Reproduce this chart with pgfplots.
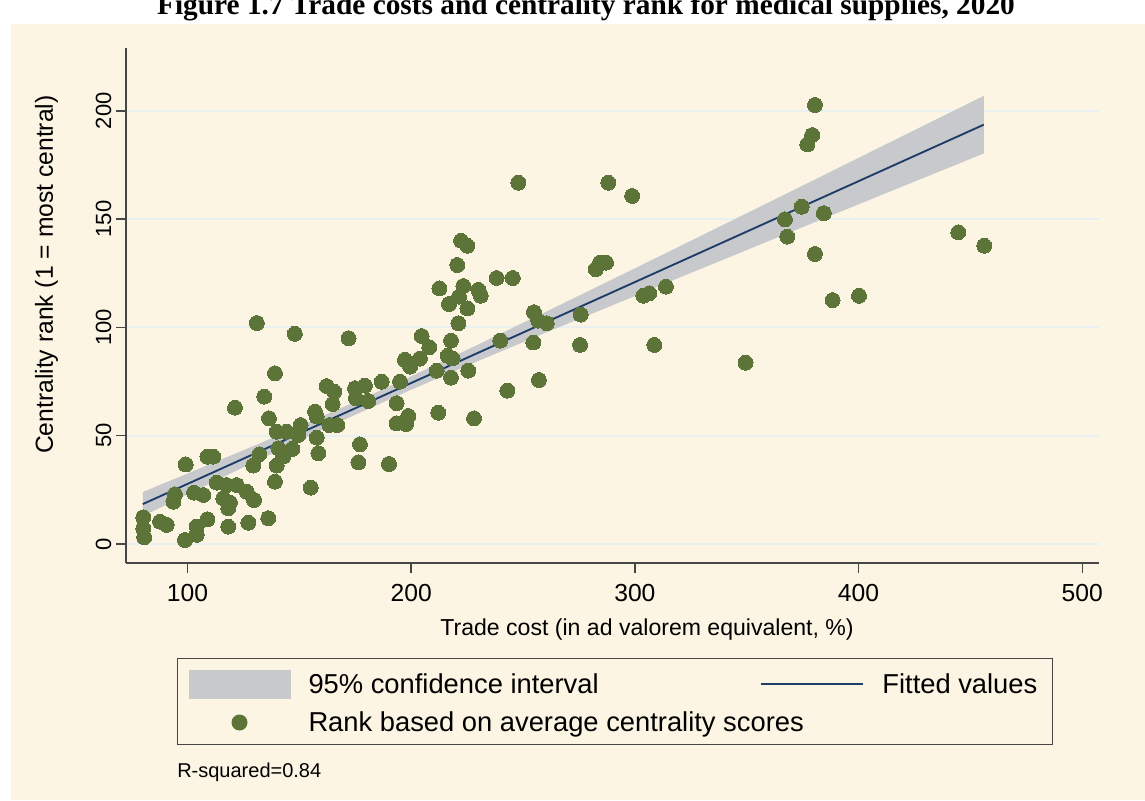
\documentclass[border=0pt]{standalone}
\usepackage{pgfplots}
\pgfplotsset{compat=1.18}
\usepackage{pgfplotstable}
\usepackage{fontspec}
\setmainfont{Liberation Sans}
\newfontfamily\titlefont{Liberation Serif}

\definecolor{cream}{RGB}{252,245,227}
\definecolor{dotgreen}{RGB}{93,116,57}
\definecolor{cigray}{RGB}{200,201,205}
\definecolor{fitnavy}{RGB}{29,61,103}
\definecolor{gridc}{RGB}{232,240,242}
\definecolor{axisc}{RGB}{70,70,70}

% trade cost (AVE, %) vs centrality rank
\pgfplotstableread{
x y
131 102
148 97
172 95
204.7 96
208.1 90.8
197.2 85
203.9 85.6
199.5 81.9
211.4 80
212.1 60.6
139.1 78.8
134.3 68
121.2 62.9
136.4 58
162.2 72.9
165.6 70.3
164.9 64.6
174.9 71.9
179.3 73.1
175.3 67.3
180.8 66
186.8 74.9
195 74.9
193.5 65
193.5 55.7
197.7 55.4
198.7 59.1
177.1 46
176.4 37.7
190.1 36.9
157 61.1
157.8 58.8
150.6 54.9
139.9 51.8
144.3 51.8
149.5 50.3
163.4 54.9
167 54.9
157.8 49.1
158.5 41.9
146.9 43.9
140.6 44.2
142.8 40.3
132.1 41.4
129.4 36.2
139.9 36.2
139.1 28.8
155.1 26
99.2 36.7
108.9 40.3
111.5 40.3
94.4 22.9
93.7 19.5
102.9 23.7
107.1 22.6
113.1 28.3
117.5 27.2
122 27.2
116 21.1
119 19.1
118.2 16.5
126.5 24.1
129.7 20.3
108.9 11.4
104.1 8
104.1 4.2
98.9 1.8
118.2 8
127.2 9.8
136.1 11.9
87.7 10.3
90.7 8.8
80.2 12.3
80.2 7.2
80.6 3.1
247.9 166.8
288.1 166.8
298.8 160.7
222.3 140
225.1 137.7
220.6 128.8
212.6 118
223.3 119.1
221.4 114.2
216.9 110.8
225.1 108.8
230 117.3
231.1 114.6
238.2 122.8
245.4 122.8
221.1 101.9
217.8 93.9
216.3 86.9
218.5 85.7
217.8 76.8
225.5 80
228.1 58
243 70.8
257.1 75.7
239.8 93.9
254.6 93
254.9 107
256.8 103.1
260.6 101.9
275.8 105.9
275.5 91.9
282.5 126.8
284.4 129.9
287.1 129.9
303.8 114.6
306.4 115.7
313.9 118.8
308.7 91.9
349.5 83.7
380.5 202.7
379.3 188.8
377.1 184.5
374.6 155.7
384.5 152.7
367.1 149.9
368.1 141.9
380.5 133.9
388.4 112.6
400.2 114.6
444.6 143.9
456.2 137.7
}\points

% 95% confidence band, upper edge then lower edge back
\pgfplotstableread{
x y
80 24.0
100 32.5
120 41.1
140 49.8
160 58.8
180 68.0
200 77.4
230 92.1
260 107.1
290 122.2
320 137.4
350 152.7
380 168.0
410 183.4
456 206.9
456 180.3
410 161.0
380 148.4
350 135.7
320 123.0
290 110.2
260 97.5
230 84.5
200 71.2
180 62.0
160 52.6
140 42.8
120 32.9
100 22.9
80 12.8
}\band

\begin{document}
\begin{tikzpicture}
% page 1145x800 px at 0.75pt per px
\path[use as bounding box] (0pt,0pt) rectangle (858.75pt,600pt);
\fill[cream] (8.25pt,0pt) rectangle (858.75pt,582pt);
\node[anchor=base,font=\titlefont\bfseries\fontsize{22}{26}\selectfont] at (439.5pt,589pt)
  {Figure 1.7 Trade costs and centrality rank for medical supplies, 2020};

\begin{axis}[
  at={(94.5pt,177.75pt)}, anchor=south west,
  scale only axis, width=729.75pt, height=386.25pt,
  xmin=72.5, xmax=507.5, ymin=-8.8, ymax=229,
  axis lines=left,
  axis line style={-, draw=axisc, line width=1.1pt},
  xtick={100,200,300,400,500},
  ytick={0,50,100,150,200},
  tick align=outside,
  major tick length=7.5pt,
  tick style={draw=axisc, line width=1.1pt},
  ymajorgrids,
  grid style={gridc, line width=1.5pt},
  /pgf/number format/assume math mode=true,
  xticklabel style={font=\fontsize{18.5}{22}\selectfont, yshift=-5pt},
  yticklabel style={font=\fontsize{16.5}{20}\selectfont, rotate=90, anchor=south},
  xlabel={Trade cost (in ad valorem equivalent, \%)},
  ylabel={Centrality rank (1 = most central)},
  xlabel style={font=\fontsize{17.3}{20}\selectfont,
    at={(axis description cs:0.5355,-0.130)}, anchor=center},
  ylabel style={font=\fontsize{18.5}{22}\selectfont,
    at={(axis description cs:-0.0817,0.56)}, anchor=center},
  clip=false,
  legend columns=2,
  legend style={at={(0.0524,-0.1845)}, anchor=north west,
    draw=axisc, line width=0.8pt, fill=cream,
    font=\fontsize{20.5}{24}\selectfont,
    inner xsep=8.25pt, inner ysep=8.5pt, row sep=9.5pt,
    nodes={inner sep=0pt},
    /tikz/every odd column/.append style={column sep=13.5pt},
    /tikz/every even column/.append style={column sep=15pt}},
]
\addplot[fill=cigray, draw=none,
  legend image code/.code={\fill[cigray] (0pt,-10.9pt) rectangle (76.5pt,10.9pt);}]
  table {\band};
\addlegendentry{\makebox[324pt][l]{95\% confidence interval}}
\addplot[fitnavy, line width=1.4pt,
  legend image code/.code={\draw[fitnavy, line width=1.4pt] (0pt,0pt) -- (76.5pt,0pt);}]
  coordinates {(80,18.4) (456,193.6)};
\addlegendentry{\makebox[119pt][l]{Fitted values}}
\addplot[only marks, mark=*, mark size=5.6pt,
  mark options={fill=dotgreen, draw=dotgreen, line width=0pt},
  legend image code/.code={\fill[dotgreen] (38.25pt,0pt) circle (5.6pt);}]
  table {\points};
\addlegendentry{\makebox[324pt][l]{Rank based on average centrality scores}}
\end{axis}

\node[anchor=west, inner sep=0pt, font=\fontsize{15}{18}\selectfont] at (132.75pt,21pt) {R-squared=0.84};
\end{tikzpicture}
\end{document}
